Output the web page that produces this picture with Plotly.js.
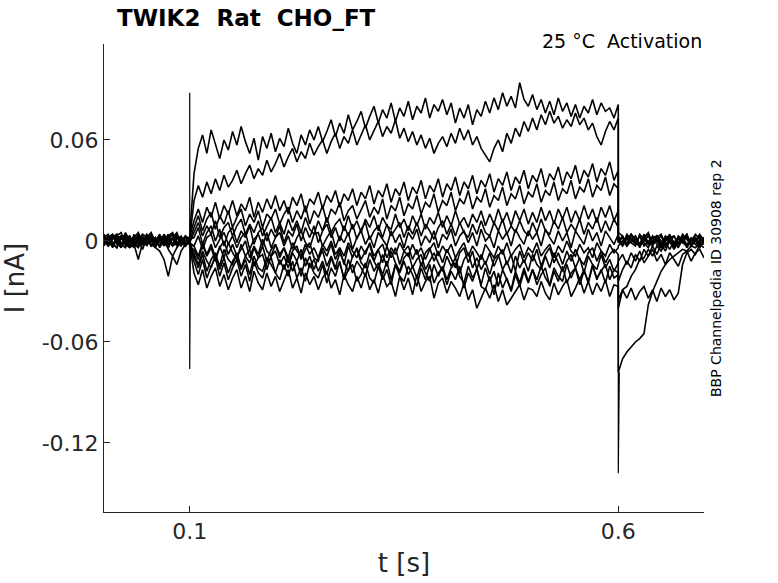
<!DOCTYPE html>
<html>
<head>
<meta charset="utf-8">
<script src="https://cdn.plot.ly/plotly-3.0.1.min.js"></script>
<style>
  html, body { margin: 0; padding: 0; background: #fff; }
  #chart { width: 778px; height: 583px; }
</style>
</head>
<body>
<div id="chart"></div>
<script>
// current values in pA; each sweep = before step (0-0.1 s), during step (0.1-0.6 s), after (0.6-0.7 s)
const tStepOn = 0.1
const tStepOff = 0.6
const tEnd = 0.7

const s1Pre = [3,-2,4,-1,-4,5,0,-4,3,-1,4,-3,-2,3,-1,-4,2,5,-2,3,1]
const s1On = [3,40,55,63,52,66,58,49,60,54,
  65,57,68,59,52,61,48,62,55,64,
  53,61,56,67,58,52,63,57,66,60,
  68,59,65,72,62,70,64,75,66,71,
  77,67,74,80,70,78,73,82,71,79,
  74,83,72,80,76,85,73,81,77,84,
  75,82,70,79,73,81,69,78,74,83,
  76,85,78,88,80,86,79,94,84,80,
  87,78,84,76,83,75,85,77,82,74,
  81,73,80,76,84,75,82,77,79,73,
  81]
const s1Post = [5,3,-2,4,-1,-3,2,5,-2,3,0,-4,2,3,-2,1,4,-3,2,-1,2]

const s2Pre = [-2,3,-1,-4,2,4,-3,1,3,-2,2,5,-1,-3,4,0,-2,1,3,-3,0]
const s2On = [1,24,33,26,35,28,37,30,39,32,
  36,42,34,40,45,37,43,39,48,41,
  46,52,44,50,55,47,53,49,58,51,
  56,60,52,59,64,55,62,58,66,57,
  63,69,60,66,71,62,68,64,72,61,
  67,59,65,57,63,55,61,52,58,62,
  56,64,58,67,60,66,57,62,55,51,
  47,55,60,53,64,58,67,62,71,65,
  73,66,75,69,77,70,74,67,72,68,
  76,69,73,66,70,62,57,65,71,66,
  73]
const s2Post = [3,-3,2,-1,3,-4,2,4,-2,0,3,-3,2,-1,-2,4,1,-3,0,3,1]

const s3Pre = [4,-1,-3,3,5,-2,2,-4,1,4,2,-3,2,-1,-2,3,5,-1,-3,2,2]
const s3On = [2,12,19,11,20,14,23,13,21,16,
  24,15,22,18,26,14,23,17,25,19,
  27,18,24,16,26,21,28,17,25,22,
  29,19,27,23,30,20,28,24,31,21,
  29,25,33,22,30,26,34,23,31,27,
  35,24,32,28,36,25,33,29,37,26,
  34,30,38,27,35,31,39,28,36,32,
  40,29,37,33,41,30,38,34,42,31,
  39,35,43,32,40,36,44,33,41,37,
  45,34,42,38,46,35,43,39,47,36,
  42]
const s3Post = [0,-3,4,1,-2,3,-1,-4,2,3,-2,0,4,-3,2,-1,3,-2,1,-3,0]

const s4Pre = [-3,2,4,-2,1,3,-4,2,5,-1,-2,3,1,-3,0,4,-2,3,-1,2,-1]
const s4On = [0,8,15,6,13,17,7,15,10,18,
  8,14,19,9,16,11,18,8,16,13,
  19,10,16,20,11,18,13,21,10,18,
  14,21,11,19,16,23,12,18,21,13,
  19,24,14,20,16,25,13,21,18,26,
  15,22,19,27,16,23,20,28,17,24,
  21,29,18,25,22,30,19,26,23,31,
  20,27,24,32,21,28,25,33,22,29,
  26,34,23,30,27,35,24,31,28,36,
  25,32,29,37,26,33,30,38,27,34,
  31]
const s4Post = [1,-2,3,-1,-3,4,1,-2,0,3,-4,2,-1,3,-2,1,4,-3,0,2,-1]

const s5Pre = [2,4,-2,1,3,-3,2,-1,4,-2,3,0,-4,2,3,-2,1,3,1,-3,0]
const s5On = [-1,5,11,3,9,4,12,2,8,11,
  3,9,13,4,10,5,12,3,9,14,
  5,11,4,13,6,12,5,14,7,4,
  12,6,14,5,10,13,6,15,7,12,
  5,13,8,15,6,14,9,7,16,8,
  13,6,15,9,16,7,14,10,17,8,
  15,9,18,10,14,8,16,11,18,9,
  16,10,19,11,17,9,18,12,19,10,
  17,11,20,12,18,10,19,13,20,11,
  18,12,21,13,19,11,20,14,21,12,
  18]
const s5Post = [0,3,-2,4,1,-3,0,3,-2,2,4,-2,0,-3,3,1,-2,0,4,1,-1]

const s6Pre = [0,-3,2,4,-2,3,-1,-3,2,-2,4,1,-3,1,3,-2,2,4,-1,-3,1]
const s6On = [1,2,8,-2,5,9,0,7,-3,5,
  8,-1,6,2,9,-2,5,8,0,7,
  2,9,-1,6,3,10,0,8,2,9,
  -1,6,10,2,8,0,9,3,10,1,
  7,11,1,6,9,2,10,3,7,11,
  2,9,4,11,3,10,6,1,8,12,
  4,10,3,11,5,2,10,4,12,5,
  3,11,6,13,4,9,5,12,6,3,
  11,5,13,6,4,12,7,14,5,10,
  6,13,4,11,7,14,5,12,6,13,
  8]
const s6Post = [2,-2,1,4,-1,-3,2,-2,3,0,-4,2,3,-1,-2,3,-3,1,0,4,0]

const s7Pre = [-2,2,-4,1,3,-2,-3,2,0,-5,2,3,-2,1,-3,2,4,-2,0,3,-1]
const s7On = [-1,-3,3,-5,2,4,-4,1,5,-2,
  3,-4,2,5,-5,1,4,-3,5,-4,
  2,5,-3,3,-5,2,6,-1,-4,4,
  5,-3,2,6,-4,3,-1,5,-5,2,
  6,-2,3,-4,5,1,-3,6,-1,4,
  -4,5,1,7,-3,3,-1,6,-4,4,
  1,7,-3,3,6,-1,5,-3,7,0,
  3,-4,6,1,5,-3,7,2,-2,6,
  1,5,-3,7,2,-2,6,0,5,-4,
  6,2,-2,7,0,5,-3,6,2,-2,
  4]
const s7Post = [-1,2,-3,0,3,-2,4,-1,-3,2,-2,3,0,-4,2,-1,3,-2,1,-3,0]

const s8Pre = [2,-3,1,3,-2,-4,2,-1,-3,3,-2,0,2,-4,1,3,-3,-1,2,-1,-2]
const s8On = [-2,-3,-9,-1,-8,-2,-10,-4,0,-8,
  -2,-9,-5,0,-10,-3,-8,1,-6,-9,
  -2,-8,-4,-10,-1,-6,-9,-2,-8,-4,
  -10,-2,-6,0,-8,-4,-9,-1,-6,-10,
  -3,-8,-1,-9,-5,-2,-10,-4,-8,-1,
  -6,-9,-2,-8,-4,-11,-5,-1,-9,-3,
  -7,-2,-10,-5,-1,-9,-3,-7,-11,-2,
  -6,-10,-3,-8,-1,-9,-5,-2,-10,-4,
  -7,-1,-9,-5,-2,-10,-3,-7,0,-6,
  -9,-2,-7,-4,-10,-1,-6,-9,-2,-7,
  -4]
const s8Post = [-3,0,-3,2,-2,3,-3,0,2,-2,-4,0,3,-2,1,-1,-3,2,-2,0,2]

const s9Pre = [-1,3,-2,-4,2,0,-3,4,-2,1,-3,2,-2,3,0,-4,2,-3,1,2,-1]
const s9On = [-1,-7,-14,-6,-12,-16,-8,-15,-5,-11,
  -14,-7,-16,-9,-5,-15,-10,-8,-17,-9,
  -6,-14,-9,-16,-7,-12,-5,-15,-9,-17,
  -10,-6,-15,-9,-16,-7,-13,-18,-9,-5,
  -13,-16,-7,-12,-17,-8,-15,-6,-13,-18,
  -10,-7,-16,-11,-8,-17,-12,-7,-13,-18,
  -9,-15,-10,-19,-11,-7,-16,-10,-17,-12,
  -20,-11,-8,-17,-12,-19,-9,-16,-11,-18,
  -8,-14,-17,-9,-16,-7,-13,-18,-12,-8,
  -16,-10,-19,-9,-14,-17,-8,-16,-11,-18,
  -13]
const s9Post = [-12,-8,-14,-7,-12,-6,-13,-9,-5,-12,-8,-14,-7,-11,-15,-8,-6,-12,-7,-5,-10]

const s10Pre = [3,-1,-2,2,-4,1,3,-3,2,-2,0,4,-3,1,2,-5,-9,-4,0,2,-2]
const s10On = [-2,-12,-20,-11,-22,-15,-10,-21,-13,-23,
  -16,-11,-21,-14,-24,-12,-19,-22,-13,-10,
  -19,-23,-14,-21,-12,-22,-16,-24,-13,-19,
  -22,-14,-25,-16,-21,-12,-23,-17,-14,-24,
  -20,-13,-22,-25,-15,-23,-17,-26,-14,-21,
  -24,-15,-20,-27,-16,-23,-14,-25,-19,-16,
  -26,-18,-23,-15,-28,-19,-24,-16,-27,-29,
  -21,-32,-19,-28,-22,-30,-20,-27,-18,-25,
  -17,-26,-20,-16,-27,-18,-24,-15,-25,-19,
  -16,-26,-18,-24,-14,-23,-17,-25,-15,-22,
  -20]
const s10Post = [-24,-17,-12,-16,-8,-12,-5,-9,-3,-8,-2,-6,0,-5,-1,1,-4,0,2,-3,0]

const s11Pre = [-2,2,-3,1,3,-2,-4,-2,-11,-1,2,-2,-4,-6,-11,-21,-9,-14,-6,-2,0]
const s11On = [-2,-19,-26,-17,-28,-21,-16,-27,-20,-29,
  -22,-17,-28,-21,-30,-18,-25,-29,-19,-27,
  -21,-30,-23,-17,-28,-22,-31,-19,-26,-21,
  -29,-22,-18,-28,-23,-32,-20,-26,-30,-21,
  -28,-19,-29,-23,-31,-20,-27,-24,-33,-21,
  -29,-22,-32,-20,-30,-24,-21,-34,-25,-22,
  -31,-24,-28,-33,-25,-35,-29,-40,-34,-28,
  -34,-26,-36,-29,-38,-34,-30,-26,-35,-28,
  -29,-33,-24,-31,-35,-25,-32,-27,-23,-33,
  -28,-22,-31,-24,-32,-25,-30,-23,-33,-26,
  -27]
const s11Post = [-35,-29,-34,-28,-35,-30,-27,-34,-29,-36,-28,-33,-29,-35,-31,-14,-7,-5,-8,-2,-4]

const s12Pre = [1,-3,2,4,-2,1,3,-2,-4,2,0,3,-3,2,-2,1,4,-3,2,0,0]
const s12On = [-4,-5,-11,-2,-9,-4,-12,-3,-10,-1,
  -7,-11,-2,-9,-13,-4,-10,-3,-12,-5,
  -2,-10,-4,-13,-6,-3,-11,-5,-1,-10,
  -12,-4,-9,-2,-11,-5,-14,-3,-10,-4,
  -11,-6,-2,-12,-5,-13,-3,-10,-4,-14,
  -6,-3,-11,-5,-15,-7,-4,-12,-6,-13,
  -5,-11,-16,-7,-4,-13,-6,-17,-8,-14,
  -7,-15,-9,-5,-14,-8,-18,-6,-13,-7,
  -12,-5,-15,-8,-4,-13,-7,-14,-6,-12,
  -5,-11,-14,-7,-4,-12,-6,-13,-8,-5,
  -8]
const s12Post = [-78,-70,-66,-63,-60,-58,-55,-38,-30,-24,-18,-14,-11,-9,-7,-5,-6,-3,-4,-1,-2]

const s13Pre = [2,-2,3,0,-3,2,-4,1,3,-2,2,-3,0,4,-2,1,-3,2,0,-2,1]
const s13On = [0,-9,-16,-8,-18,-11,-7,-17,-10,-19,
  -12,-8,-17,-11,-20,-9,-16,-18,-10,-14,
  -19,-11,-17,-9,-18,-12,-21,-10,-16,-11,
  -18,-12,-20,-10,-17,-13,-22,-11,-19,-12,
  -16,-21,-11,-18,-13,-20,-12,-23,-14,-19,
  -12,-20,-15,-22,-13,-19,-24,-14,-21,-15,
  -23,-16,-13,-21,-25,-15,-22,-17,-26,-16,
  -24,-18,-27,-17,-23,-29,-18,-25,-16,-24,
  -17,-23,-15,-22,-26,-16,-21,-24,-14,-22,
  -16,-23,-17,-25,-15,-22,-18,-14,-23,-17,
  -19]
const s13Post = [-40,-29,-27,-21,-17,-11,-10,-5,-9,-3,-6,-1,-5,0,-4,1,-3,2,-2,-4,0]

// capacitive transients at step on / off (time s, current pA)
const capOnT = [0.1, 0.1, 0.1, 0.1008]
const capOnI = [0, 88, -76, -4]
const capOffT = [0.6, 0.6, 0.6012]
const capOffI = [-8, -138, -78]

const yTicks = [-0.12, -0.06, 0, 0.06]
const yTickText = ['-0.12', '-0.06', '0', '0.06']
const xTicks = [0.1, 0.6]
const xTickText = ['0.1', '0.6']

const sweeps = [
  [s1Pre, s1On, s1Post], [s2Pre, s2On, s2Post], [s3Pre, s3On, s3Post],
  [s4Pre, s4On, s4Post], [s5Pre, s5On, s5Post], [s6Pre, s6On, s6Post],
  [s7Pre, s7On, s7Post], [s8Pre, s8On, s8Post], [s9Pre, s9On, s9Post],
  [s10Pre, s10On, s10Post], [s11Pre, s11On, s11Post], [s12Pre, s12On, s12Post],
  [s13Pre, s13On, s13Post]
]

const FONT = 'DejaVu Sans, Verdana, sans-serif'
const lineStyle = {color: '#000', width: 1.6}
const thinLine = {color: '#000', width: 1.2}

// lay each segment on an even sample grid between its start and end time
function segment(vals, t0, t1, x, y){
  vals.forEach((v, i) => {
    x.push(t0 + i * (t1 - t0) / (vals.length - 1))
    y.push(v / 1000)
  })
}

var data = sweeps.map((s) => {
  var x = [], y = []
  segment(s[0], 0, tStepOn, x, y)
  segment(s[1], tStepOn, tStepOff, x, y)
  segment(s[2], tStepOff, tEnd, x, y)
  return {x: x, y: y, type: 'scatter', mode: 'lines', line: lineStyle, hoverinfo: 'skip'}
})

data.push({x: capOnT, y: capOnI.map((v) => v / 1000), type: 'scatter', mode: 'lines', line: thinLine, hoverinfo: 'skip'})
data.push({x: capOffT, y: capOffI.map((v) => v / 1000), type: 'scatter', mode: 'lines', line: thinLine, hoverinfo: 'skip'})

var axisCommon = {
  showline: true,
  linecolor: '#262626',
  linewidth: 1,
  mirror: false,
  showgrid: false,
  zeroline: false,
  ticks: 'inside',
  ticklen: 6,
  tickwidth: 1,
  tickcolor: '#262626',
  tickfont: {family: FONT, size: 22, color: '#262626'}
}

var layout = {
  width: 778,
  height: 583,
  margin: {l: 104, r: 74, t: 44, b: 71},
  paper_bgcolor: '#fff',
  plot_bgcolor: '#fff',
  showlegend: false,
  font: {family: FONT, color: '#262626'},
  title: {
    text: 'TWIK2\u00a0\u00a0Rat\u00a0\u00a0CHO_FT',
    font: {family: FONT, size: 23, color: '#000', weight: 'bold'},
    xref: 'container', x: 117 / 778, xanchor: 'left',
    yref: 'container', y: 1 - 18 / 583, yanchor: 'middle'
  },
  xaxis: Object.assign({}, axisCommon, {
    range: [0, 0.7],
    tickmode: 'array', tickvals: xTicks, ticktext: xTickText,
    title: {text: 't [s]', font: {family: FONT, size: 26, color: '#262626'}, standoff: 10}
  }),
  yaxis: Object.assign({}, axisCommon, {
    range: [-0.161, 0.117],
    tickmode: 'array', tickvals: yTicks, ticktext: yTickText,
    title: {text: 'I [nA]', font: {family: FONT, size: 26, color: '#262626'}, standoff: 12}
  }),
  annotations: [
    {
      text: '25 °C\u00a0\u00a0Activation',
      xref: 'paper', yref: 'paper', x: 1, y: (512 - 41) / 468,
      xanchor: 'right', yanchor: 'middle', showarrow: false,
      font: {family: FONT, size: 19, color: '#000'}
    },
    {
      text: 'BBP Channelpedia ID 30908 rep 2',
      xref: 'paper', yref: 'paper', x: (716 - 104) / 600, y: (512 - 278) / 468,
      xanchor: 'center', yanchor: 'middle', textangle: -90, showarrow: false,
      font: {family: FONT, size: 14, color: '#000'}
    }
  ]
}

Plotly.newPlot('chart', data, layout, {displayModeBar: false, staticPlot: true})
</script>
</body>
</html>
